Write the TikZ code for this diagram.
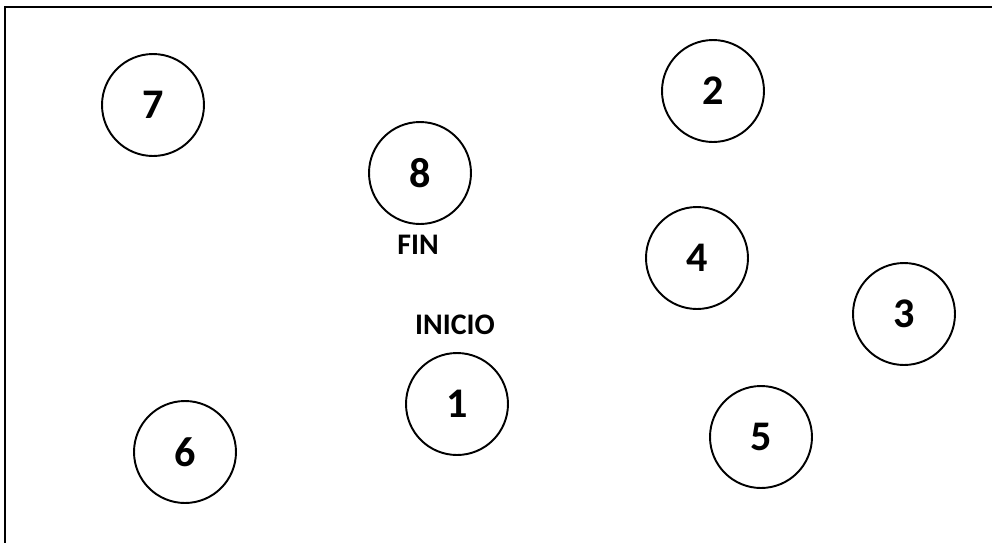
\documentclass[tikz,border=0pt]{standalone}
\usepackage{fontspec}
\setmainfont{Carlito}
\usetikzlibrary{positioning}
\tikzstyle{station} = [circle, draw, line width=1.1pt, minimum size=2.04cm, inner sep=0pt, font=\fontsize{24}{28}\selectfont\bfseries]
\tikzstyle{tag} = [font=\fontsize{17}{20}\selectfont\bfseries, inner sep=0pt]
\tikzstyle{frame} = [line width=1.6pt]

\begin{document}
\begin{tikzpicture}[x=0.02cm, y=-0.02cm]

    \useasboundingbox (0,0) rectangle (992,542);

    % Frame
    \draw [frame] (5,7) rectangle (1010,560);

    % Stations
    \node (n7) [station] at (153,105) {7};
    \node (n2) [station] at (713,91) {2};
    \node (n8) [station] at (420,173) {8};
    \node (n4) [station] at (697,258) {4};
    \node (n3) [station] at (904,314) {3};
    \node (n1) [station] at (457,404) {1};
    \node (n6) [station] at (185,452) {6};
    \node (n5) [station] at (761,437) {5};

    % Labels
    \node (fin_label) [tag] at (418,245) {FIN};
    \node (inicio_label) [tag] at (455,325) {INICIO};

\end{tikzpicture}
\end{document}
